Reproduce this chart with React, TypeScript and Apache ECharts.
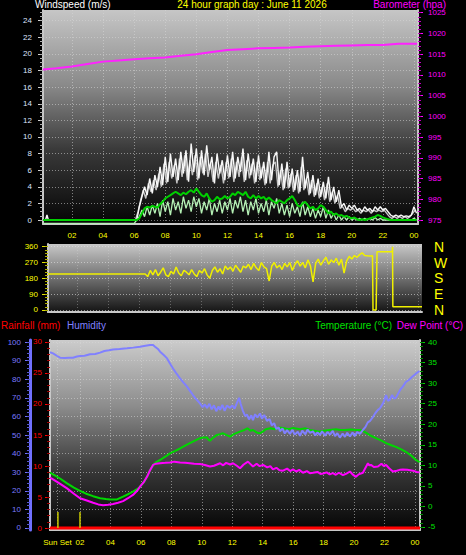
import React, { useEffect, useRef } from "react";
import * as echarts from "echarts";

const FONT = "Liberation Sans";

// ---------- tick labels ----------
const HOUR_TICKS = [2, 4, 6, 8, 10, 12, 14, 16, 18, 20, 22, 24];
const SUNSET_HOUR = 0.52;
const BOTTOM_HOUR_TICKS = [SUNSET_HOUR, 2, 4, 6, 8, 10, 12, 14, 16, 18, 20, 22, 24];
const WIND_TICKS = [0, 2, 4, 6, 8, 10, 12, 14, 16, 18, 20, 22, 24];
const BARO_TICKS = [975, 980, 985, 990, 995, 1000, 1005, 1010, 1015, 1020, 1025];
const DIR_TICKS = [0, 90, 180, 270, 360];
const COMPASS = ["N", "E", "S", "W", "N"]; // for 0, 90, 180, 270, 360
const HUM_TICKS = [0, 10, 20, 30, 40, 50, 60, 70, 80, 90, 100];
const RAIN_TICKS = [0, 5, 10, 15, 20, 25, 30];
const TEMP_TICKS = [-5, 0, 5, 10, 15, 20, 25, 30, 35, 40];

// ---------- top panel data ----------
const BAROMETER = [
  [0.135, 1011.3], [1, 1011.6], [2, 1012.0], [3, 1012.6], [4, 1013.2], [5, 1013.5], [6, 1013.8],
  [7, 1014.0], [8, 1014.2], [9, 1014.6], [10, 1015.0], [11, 1015.5], [12, 1016.0], [13, 1016.2],
  [14, 1016.4], [15, 1016.5], [16, 1016.6], [17, 1016.8], [18, 1016.9], [19, 1017.0], [20, 1017.1],
  [21, 1017.2], [22, 1017.2], [23, 1017.5], [24.2, 1017.5],
];

// wind, 10-minute samples starting 06:00
const WIND_START = 6.0;
const WIND_STEP = 1 / 6;
const GUST = [
  0, 0, 1.6, 2.8, 4.0, 3.0, 5.0, 3.2, 5.4, 4.0, 6.4, 4.2, 7.6, 4.6, 8.0, 5.2, 7.4, 4.8, 8.2, 5.6,
  8.4, 4.6, 9.2, 5.8, 8.6, 5.0, 8.4, 5.4, 9.0, 6.0, 7.6, 4.4, 8.0, 5.6, 7.2, 4.8, 7.8, 5.2, 8.2, 5.0,
  7.6, 5.8, 8.6, 4.8, 8.0, 5.4, 7.4, 4.6, 7.8, 5.0, 7.0, 4.4, 8.2, 4.8, 7.6, 8.2, 4.2, 6.8, 3.8, 7.0,
  4.0, 6.2, 3.6, 6.0, 3.4, 7.6, 3.8, 5.8, 3.2, 5.4, 3.0, 5.0, 2.8, 4.6, 2.6, 5.2, 2.4, 4.0, 2.2, 3.6,
  1.6, 2.0, 1.2, 1.8, 1.4, 1.8, 1.2, 1.4, 1.0, 1.6, 1.2, 1.4, 1.0, 1.6, 1.2, 1.6, 1.2, 1.4, 1.0, 0.6,
  0.4, 0.6, 0.4, 0.6, 0.4, 0.5, 0.4, 0.6, 1.6, 0.8,
];
const GUST_EARLY = [[0.135, 0], [0.3, 0], [0.39, 0.6], [0.48, 0], [5.9, 0]];
const GUST2_START = 6.083;
const GUST2 = [
  0, 1.0, 2.4, 3.6, 2.6, 4.4, 3.4, 4.8, 3.6, 5.6, 4.0, 6.8, 4.4, 7.0, 5.0, 6.6, 4.4, 7.4, 5.2, 7.8,
  4.8, 7.2, 5.4, 7.8, 4.8, 7.6, 5.6, 8.0, 5.2, 6.8, 4.6, 7.0, 5.0, 6.6, 4.4, 7.0, 5.0, 7.4, 4.6, 7.0,
  5.2, 7.6, 4.6, 7.2, 5.0, 6.8, 4.4, 7.0, 4.8, 6.4, 4.2, 7.0, 4.4, 6.6, 7.0, 4.0, 6.0, 3.6, 6.2, 3.8,
  5.6, 3.4, 5.4, 3.2, 6.4, 3.6, 5.0, 3.0, 4.8, 2.8, 4.4, 2.6, 4.0, 2.4, 4.4, 2.2, 3.4, 2.0, 3.0, 1.4,
  1.6, 1.0, 1.4, 1.2, 1.4, 1.0, 1.2, 0.8, 1.2, 1.0, 1.2, 0.8, 1.2, 1.0, 1.2, 1.0, 1.2, 0.8, 0.4, 0.2,
  0.4, 0.2, 0.4, 0.2, 0.4, 0.2, 0.4, 0.8, 1.2,
];
const SPEED = [
  -0.4, 0, 0.4, 1.2, 0.4, 1.6, 0.6, 1.8, 0.8, 2.0, 0.4, 2.4, 1.0, 2.2, 0.6, 2.6, 1.2, 2.2, 0.8, 2.8,
  1.4, 2.4, 1.0, 2.8, 1.6, 2.6, 0.8, 2.2, 1.2, 2.6, 0.6, 2.0, 1.0, 2.4, 0.8, 2.2, 1.2, 2.6, 0.8, 2.4,
  1.4, 2.8, 1.0, 2.4, 0.6, 2.2, 1.2, 2.6, 0.8, 2.0, 1.0, 2.4, 0.6, 2.2, 1.4, 2.6, 0.8, 2.0, 0.6, 1.8,
  0.4, 2.0, 0.8, 1.6, 0.4, 2.2, 0.6, 1.6, 0.4, 1.4, 0.2, 1.2, 0.4, 1.6, 0.2, 1.2, 0.2, 0.8, 0, 0.6,
  0, 0.4, 0, 0.4, 0, 0.2, 0, 0.2, 0, 0.2, 0, 0.2, 0, 0.3, 0, 0.2, 0, 0, 0, 0,
  0, 0, 0, 0, 0, 0, 0, 0, 0.2, 0,
];
const SPEED_EARLY = [[0.135, -0.4], [5.9, -0.4]];
const AVERAGE = [
  0, 0, 0.2, 0.8, 1.4, 1.6, 1.5, 1.7, 1.6, 1.5, 1.9, 2.2, 2.6, 2.8, 3.0, 3.2, 3.4, 3.2, 3.0, 3.3,
  3.1, 3.4, 3.6, 3.3, 3.8, 3.4, 3.0, 2.8, 3.2, 2.6, 2.2, 2.4, 2.8, 2.5, 2.6, 2.9, 2.6, 2.8, 3.2, 3.0,
  3.4, 3.2, 3.0, 3.4, 2.8, 2.6, 3.0, 2.6, 2.9, 2.6, 2.8, 2.4, 2.7, 2.4, 2.2, 2.0, 2.4, 2.2, 2.0, 2.4,
  2.6, 2.9, 2.4, 1.8, 1.6, 2.0, 2.2, 1.8, 1.4, 1.6, 1.2, 1.4, 1.8, 1.6, 1.2, 0.8, 1.0, 0.6, 0.8, 0.5,
  0.6, 0.4, 0.5, 0.3, 0.2, 0.3, 0.1, 0, 0.1, 0, 0.1, 0.2, 0.3, 0.4, 0.6, 0.5, 0.3, 0.2, 0.1, 0,
  0, 0, 0, 0, 0, 0, 0, 0, 0, 0,
];
const AVERAGE_EARLY = [[0.135, 0], [5.9, 0]];

// ---------- wind direction ----------
const DIR_EARLY = [[0.135, 205], [6.3, 205]];
const DIR_START = 6.4;
const DIR_STEP = 1 / 6;
const DIRECTION = [
  205, 190, 225, 200, 230, 195, 215, 240, 200, 190, 220, 205, 245, 210, 195, 225, 215, 200, 230, 205,
  190, 225, 210, 235, 200, 180, 225, 245, 215, 235, 205, 250, 230, 245, 220, 255, 235, 215, 250, 240,
  260, 230, 265, 240, 225, 270, 245, 235, 165, 250, 270, 240, 255, 230, 265, 245, 270, 225, 260, 280,
  250, 270, 240, 285, 250, 160, 265, 290, 255, 280, 300, 260, 285, 270, 295, 255, 290, 210, 280, 305,
  290, 310, 300, 315, 325, 310, 308, 307, 308,
];
const DIR_LATE = [[21.08, 307], [21.1, 0], [21.3, 0], [21.36, 332], [22.34, 332], [22.36, 360], [22.38, 19], [24.26, 19]];

// ---------- bottom panel ----------
const RAINFALL = [[0.03, 0], [6, 0], [12, 0], [18, 0], [24.33, 0]];
const MARKER_HOURS = [0.55, 2.0];
const MARKER_HEIGHT = 2.6;

const HUMIDITY = [
  [0.03, 94.5], [0.23, 93.9], [0.5, 92.5], [0.69, 91.6], [1.0, 91.4], [1.3, 91.6], [1.54, 91.6], [1.8, 92.2],
  [2.0, 92.5], [2.3, 92.6], [2.66, 93.4], [3.0, 93.6], [3.32, 94.3], [3.6, 95.2], [3.9, 95.6], [4.17, 96.0],
  [4.6, 96.2], [5.09, 96.6], [5.5, 97.0], [5.94, 97.5], [6.3, 98.0], [6.6, 98.4], [6.8, 98.4], [6.93, 97.5],
  [7.1, 96.4], [7.26, 94.8], [7.5, 93.0], [7.72, 91.2], [7.9, 88.6], [8.11, 85.8], [8.3, 83.5], [8.57, 80.5],
  [8.8, 78.2], [9.03, 76.0], [9.2, 74.0], [9.42, 71.5], [9.6, 69.6], [9.88, 67.0], [10.05, 65.0], [10.2, 66.4],
  [10.34, 64.6], [10.5, 66.8], [10.65, 63.8], [10.8, 66.0], [10.95, 62.8], [11.1, 65.4], [11.2, 63.6], [11.35, 66.2],
  [11.5, 63.0], [11.65, 65.8], [11.86, 64.6], [12.0, 66.0], [12.15, 64.2], [12.3, 67.2], [12.45, 70.0], [12.55, 66.8],
  [12.7, 63.0], [12.85, 60.2], [12.97, 61.0], [13.1, 58.4], [13.25, 60.6], [13.36, 58.0], [13.5, 61.2], [13.65, 59.4],
  [13.82, 61.6], [13.95, 58.8], [14.1, 60.8], [14.28, 57.6], [14.45, 58.6], [14.6, 55.2], [14.75, 56.4], [14.9, 53.2],
  [15.05, 54.2], [15.13, 52.0], [15.3, 53.6], [15.45, 50.8], [15.6, 52.6], [15.79, 50.6], [15.95, 52.8], [16.1, 50.2],
  [16.3, 51.8], [16.45, 49.6], [16.6, 52.4], [16.8, 50.4], [16.95, 53.0], [17.1, 51.2], [17.3, 52.0], [17.45, 49.8],
  [17.6, 51.4], [17.76, 50.0], [17.9, 52.0], [18.1, 49.6], [18.25, 51.6], [18.42, 50.2], [18.6, 52.2], [18.75, 49.4],
  [18.9, 51.0], [19.07, 48.6], [19.25, 50.8], [19.4, 49.0], [19.55, 51.2], [19.73, 49.2], [19.9, 51.4], [20.05, 49.4],
  [20.2, 51.6], [20.39, 50.6], [20.58, 52.7], [20.75, 54.4], [20.9, 56.8], [21.05, 57.6], [21.24, 59.7], [21.4, 61.8],
  [21.55, 63.4], [21.7, 64.4], [21.9, 67.0], [22.0, 69.0], [22.1, 71.5], [22.22, 68.4], [22.35, 69.0], [22.5, 71.6],
  [22.62, 69.6], [22.75, 70.0], [22.9, 72.4], [23.05, 74.6], [23.2, 76.0], [23.4, 78.5], [23.6, 79.6], [23.8, 81.2],
  [24.06, 83.0], [24.3, 84.4],
];

const TEMPERATURE = [
  [0.03, 8.2], [0.23, 7.8], [0.69, 6.8], [1.15, 5.6], [1.6, 4.6], [2.0, 3.8], [2.4, 3.1], [2.86, 2.5],
  [3.32, 2.0], [3.7, 1.8], [3.97, 1.7], [4.43, 1.7], [4.83, 2.4], [5.1, 2.9], [5.48, 3.6], [5.75, 4.2],
  [5.94, 4.8], [6.2, 5.9], [6.4, 7.2], [6.6, 8.8], [6.8, 10.1], [7.0, 10.8], [7.26, 11.3], [7.6, 12.1],
  [7.91, 12.9], [8.25, 13.5], [8.57, 14.1], [8.9, 14.8], [9.22, 15.4], [9.55, 16.0], [9.88, 16.6], [10.1, 16.8],
  [10.34, 16.8], [10.45, 16.2], [10.54, 16.0], [10.7, 16.6], [11.0, 17.4], [11.2, 17.6], [11.39, 17.8], [11.6, 17.4],
  [11.86, 17.0], [12.1, 17.6], [12.5, 18.2], [12.8, 18.6], [13.0, 19.0], [13.2, 18.4], [13.36, 18.6], [13.6, 18.0],
  [13.8, 17.8], [14.0, 18.2], [14.2, 18.8], [14.5, 19.0], [14.8, 18.8], [15.1, 19.2], [15.4, 19.0], [15.7, 18.8],
  [16.0, 19.1], [16.45, 18.8], [16.8, 19.0], [17.1, 18.6], [17.4, 18.4], [17.7, 18.2], [18.0, 18.4], [18.4, 18.6],
  [18.8, 18.8], [19.1, 18.6], [19.4, 18.6], [19.8, 18.7], [20.1, 18.6], [20.4, 18.6], [20.6, 18.3], [20.8, 17.9],
  [21.1, 17.2], [21.44, 16.6], [21.8, 16.0], [22.1, 15.4], [22.45, 14.9], [22.75, 14.5], [23.1, 13.9], [23.4, 13.3],
  [23.75, 12.4], [24.06, 11.3], [24.3, 10.8],
];

const DEWPOINT = [
  [0.03, 7.0], [0.23, 6.6], [0.7, 5.5], [1.15, 4.4], [1.6, 3.1], [2.0, 2.0], [2.4, 1.5], [2.86, 0.9],
  [3.2, 0.5], [3.52, 0.3], [3.85, 0.4], [4.17, 0.6], [4.5, 0.9], [4.83, 1.3], [5.15, 2.0], [5.48, 2.8],
  [5.75, 3.8], [5.94, 4.8], [6.2, 6.0], [6.4, 7.2], [6.6, 8.8], [6.8, 10.1], [7.0, 10.4], [7.26, 10.5],
  [7.6, 10.6], [7.91, 10.7], [8.2, 10.9], [8.57, 10.7], [8.9, 10.6], [9.22, 10.5], [9.5, 10.4], [9.88, 10.3],
  [10.2, 10.1], [10.54, 9.7], [10.8, 9.9], [11.0, 10.2], [11.2, 10.5], [11.4, 10.0], [11.6, 10.6], [11.86, 10.2],
  [12.05, 10.5], [12.3, 9.9], [12.51, 9.3], [12.75, 10.2], [13.03, 10.9], [13.2, 10.3], [13.36, 9.7], [13.6, 10.4],
  [13.8, 9.8], [14.02, 10.1], [14.3, 9.5], [14.5, 9.8], [14.67, 9.0], [14.9, 9.4], [15.1, 8.8], [15.33, 8.7],
  [15.6, 9.2], [15.8, 8.6], [15.99, 9.0], [16.2, 8.5], [16.4, 8.9], [16.64, 8.2], [16.9, 8.6], [17.1, 8.1],
  [17.3, 8.2], [17.6, 8.4], [17.8, 7.9], [17.96, 8.0], [18.2, 8.3], [18.4, 7.8], [18.61, 8.1], [18.8, 7.7],
  [19.0, 8.2], [19.27, 7.6], [19.5, 8.0], [19.73, 8.5], [19.9, 7.8], [20.12, 7.2], [20.3, 7.8], [20.58, 8.2],
  [20.75, 9.4], [20.91, 10.5], [21.0, 10.0], [21.11, 10.1], [21.3, 9.6], [21.57, 9.7], [21.8, 10.4], [21.95, 9.8],
  [22.1, 10.1], [22.3, 9.3], [22.55, 8.5], [22.8, 8.7], [23.0, 8.9], [23.21, 9.0], [23.5, 8.9], [23.87, 8.7],
  [24.1, 8.4], [24.3, 8.3],
];

// ---------- helpers ----------
const sampled = (start: number, step: number, vals: number[]) =>
  vals.map((v, i) => [+(start + i * step).toFixed(4), v]);
const fine = (a: number, b: number, s: number) => {
  const r: number[] = [];
  for (let v = a; v <= b + 1e-9; v += s) r.push(+v.toFixed(3));
  return r;
};
const grad = (stops: [number, string][]) =>
  new echarts.graphic.LinearGradient(0, 0, 0, 1, stops.map(([offset, color]) => ({ offset, color })));
const hourFmt = (v: number) => (Math.abs(v - SUNSET_HOUR) < 1e-6 ? "Sun Set" : v === 24 ? "00" : String(v).padStart(2, "0"));
const plainFmt = (v: number) => String(v);

const FRAME = "#c8c8c8";
const GRIDLINE = { color: "rgba(215,215,215,0.55)", type: [1, 2] as any, width: 1 };

const tickAxis = (gridIndex: number, position: string, min: number, max: number, values: number[], color: string, length: number, offset = 0) => ({
  type: "value", gridIndex, position, offset, min, max,
  axisLine: { show: false, onZero: false },
  axisLabel: { show: false },
  splitLine: { show: false },
  axisTick: { show: true, customValues: values, length, lineStyle: { color, width: 1 } },
});

export default function App() {
  const ref = useRef<HTMLDivElement>(null);
  useEffect(() => {
    if (!ref.current) return;
    const chart = echarts.init(ref.current, null, { renderer: "svg" });

    const T_MIN = 0.135, T_MAX = 24.26;
    const W_MIN = -0.48, W_MAX = 25.29;
    const B_MIN = 974.04, B_MAX = 1025.65;
    const D_MIN = -11.4, D_MAX = 375.4;
    const BT_MIN = 0.03, BT_MAX = 24.33;
    const H_MIN = -1.08, H_MAX = 101.1;
    const R_MIN = -0.32, R_MAX = 30.32;
    const C_MIN = -5.73, C_MAX = 40.49;

    const txt = (text: string, x: number, y: number, fill: string, align = "left", size = 10) => ({
      type: "text", x, y, silent: true,
      style: { text, fill, font: `${size}px "${FONT}"`, lineHeight: 9, align, verticalAlign: "top" },
    });

    const line = (name: string, data: any[], xi: number, yi: number, color: string, width: number, z = 2) => ({
      name, type: "line", data, xAxisIndex: xi, yAxisIndex: yi, showSymbol: false, symbol: "none",
      silent: true, z, lineStyle: { color, width }, itemStyle: { color },
    });

    const option: any = {
      animation: false,
      backgroundColor: "#000",
      textStyle: { fontFamily: FONT },
      grid: [
        { left: 43, top: 10, width: 375, height: 214, show: true, borderWidth: 0,
          backgroundColor: grad([[0, "#c6c6c6"], [0.35, "#8a8a8a"], [0.65, "#3a3a3a"], [1, "#050505"]]) },
        { left: 48, top: 244, width: 374, height: 68, show: true, borderWidth: 0,
          backgroundColor: grad([[0, "#c8c8c8"], [0.5, "#707070"], [1, "#141414"]]) },
        { left: 50, top: 340, width: 370, height: 190, show: true, borderWidth: 0,
          backgroundColor: grad([[0, "#cccccc"], [0.35, "#8c8c8c"], [0.7, "#353535"], [1, "#050505"]]) },
      ],
      xAxis: [
        { type: "value", gridIndex: 0, min: T_MIN, max: T_MAX,
          axisLine: { show: true, onZero: false, lineStyle: { color: FRAME, width: 2 } },
          axisTick: { show: false, customValues: HOUR_TICKS },
          axisLabel: { customValues: HOUR_TICKS, formatter: hourFmt, color: "#ffff00", fontSize: 8, margin: 7 },
          splitLine: { show: true, lineStyle: GRIDLINE } },
        { type: "value", gridIndex: 1, min: T_MIN, max: T_MAX,
          axisLine: { show: true, onZero: false, lineStyle: { color: FRAME, width: 2 } },
          axisTick: { show: false, customValues: HOUR_TICKS },
          axisLabel: { show: false },
          splitLine: { show: true, lineStyle: { ...GRIDLINE, color: "rgba(215,215,215,0.35)" } } },
        { type: "value", gridIndex: 2, min: BT_MIN, max: BT_MAX,
          axisLine: { show: true, onZero: false, lineStyle: { color: FRAME, width: 2 } },
          axisTick: { show: false, customValues: BOTTOM_HOUR_TICKS },
          axisLabel: { customValues: BOTTOM_HOUR_TICKS, formatter: hourFmt, color: "#ffff00", fontSize: 8, margin: 8 },
          splitLine: { show: true, lineStyle: GRIDLINE } },
      ],
      yAxis: [
        // 0 wind
        { type: "value", gridIndex: 0, position: "left", min: W_MIN, max: W_MAX,
          axisLine: { show: true, onZero: false, lineStyle: { color: FRAME, width: 2 } },
          axisTick: { show: true, customValues: WIND_TICKS, length: 5, lineStyle: { color: "#d0d0d0" } },
          axisLabel: { customValues: WIND_TICKS, formatter: plainFmt, color: "#dde4ff", fontSize: 8, margin: 11 },
          splitLine: { show: true, lineStyle: GRIDLINE } },
        // 1 wind minor
        tickAxis(0, "left", W_MIN, W_MAX, fine(0, 25, 0.5), "#b0b0b0", 3),
        // 2 barometer
        { type: "value", gridIndex: 0, position: "right", min: B_MIN, max: B_MAX,
          axisLine: { show: true, onZero: false, lineStyle: { color: FRAME, width: 2 } },
          axisTick: { show: true, customValues: BARO_TICKS, length: 5, lineStyle: { color: "#ff00ff" } },
          axisLabel: { customValues: BARO_TICKS, formatter: plainFmt, color: "#ff00ff", fontSize: 8, lineHeight: 7, margin: 10 },
          splitLine: { show: false } },
        // 3 barometer minor
        tickAxis(0, "right", B_MIN, B_MAX, fine(975, 1025, 1), "#c000c0", 3),
        // 4 direction
        { type: "value", gridIndex: 1, position: "left", min: D_MIN, max: D_MAX,
          axisLine: { show: true, onZero: false, lineStyle: { color: FRAME, width: 2 } },
          axisTick: { show: true, customValues: DIR_TICKS, length: 6, lineStyle: { color: "#e0e000" } },
          axisLabel: { customValues: DIR_TICKS, formatter: plainFmt, color: "#ffff00", fontSize: 8, margin: 10 },
          splitLine: { show: true, lineStyle: { ...GRIDLINE, color: "rgba(225,225,225,0.6)" } } },
        // 5 direction minor
        tickAxis(1, "left", D_MIN, D_MAX, fine(0, 360, 18), "#b0b000", 3),
        // 6 compass letters
        { type: "value", gridIndex: 1, position: "right", min: D_MIN, max: D_MAX,
          axisLine: { show: false, onZero: false }, axisTick: { show: false, customValues: DIR_TICKS },
          axisLabel: { customValues: DIR_TICKS, formatter: (v: number) => COMPASS[DIR_TICKS.indexOf(v)],
            color: "#ffff00", fontSize: 14, margin: 12 },
          splitLine: { show: false } },
        // 7 humidity
        { type: "value", gridIndex: 2, position: "left", offset: 20, min: H_MIN, max: H_MAX,
          axisLine: { show: true, onZero: false, lineStyle: { color: "#7070ff", width: 3 } },
          axisTick: { show: true, customValues: HUM_TICKS, length: 5, lineStyle: { color: "#7070ff" } },
          axisLabel: { customValues: HUM_TICKS, formatter: plainFmt, color: "#7a7aff", fontSize: 8, margin: 9 },
          splitLine: { show: true, lineStyle: GRIDLINE } },
        // 8 humidity minor
        tickAxis(2, "left", H_MIN, H_MAX, fine(0, 100, 2), "#5858d0", 3, 20),
        // 9 rainfall
        { type: "value", gridIndex: 2, position: "left", min: R_MIN, max: R_MAX,
          axisLine: { show: true, onZero: false, lineStyle: { color: FRAME, width: 2 } },
          axisTick: { show: true, customValues: RAIN_TICKS, length: 5, lineStyle: { color: "#ff0000" } },
          axisLabel: { customValues: RAIN_TICKS, formatter: plainFmt, color: "#ff0000", fontSize: 8, margin: 8 },
          splitLine: { show: false } },
        // 10 rainfall minor
        tickAxis(2, "left", R_MIN, R_MAX, fine(0, 30, 1), "#a00000", 3),
        // 11 temperature / dew point
        { type: "value", gridIndex: 2, position: "right", min: C_MIN, max: C_MAX,
          axisLine: { show: true, onZero: false, lineStyle: { color: FRAME, width: 2 } },
          axisTick: { show: true, customValues: TEMP_TICKS, length: 5, lineStyle: { color: "#00d000" } },
          axisLabel: { customValues: TEMP_TICKS, formatter: plainFmt, color: "#00e000", fontSize: 8, margin: 8 },
          splitLine: { show: false } },
        // 12 temperature minor
        tickAxis(2, "right", C_MIN, C_MAX, fine(-5, 40, 1), "#009000", 3),
      ],
      series: [
        line("Barometer", BAROMETER, 0, 2, "#ff22ff", 2, 5),
        line("Gust max", sampled(GUST2_START, WIND_STEP, GUST2), 0, 0, "#c4c4c4", 1.4, 2),
        line("Gust", [...GUST_EARLY, ...sampled(WIND_START, WIND_STEP, GUST)], 0, 0, "#f8f8f8", 1.4, 3),
        line("Speed", [...SPEED_EARLY, ...sampled(WIND_START, WIND_STEP, SPEED)], 0, 0, "#b4f0b4", 1.3, 4),
        line("Average", [...AVERAGE_EARLY, ...sampled(WIND_START, WIND_STEP, AVERAGE)], 0, 0, "#00d000", 2, 5),
        line("Direction", [...DIR_EARLY, ...sampled(DIR_START, DIR_STEP, DIRECTION), ...DIR_LATE], 1, 4, "#f0f000", 1.5, 3),
        line("Rainfall", RAINFALL, 2, 9, "#ff0000", 3, 3),
        ...MARKER_HOURS.map((h, i) => line("Marker" + i, [[h, 0], [h, MARKER_HEIGHT]], 2, 9, "#c8c800", 1.5, 3)),
        line("Temperature", TEMPERATURE, 2, 11, "#00d800", 2, 4),
        line("Dew Point", DEWPOINT, 2, 11, "#ff00ff", 2, 4),
        line("Humidity", HUMIDITY, 2, 7, "#8080ff", 2, 5),
      ],
      graphic: [
        txt("Windspeed (m/s)", 35, -0.5, "#ffffff"),
        txt("24 hour graph day : June 11 2026", 252, -0.5, "#ffff00", "center"),
        txt("Barometer (hpa)", 446, -0.5, "#ff00ff", "right"),
        txt("Rainfall (mm)", 1, 321, "#ff0000"),
        txt("Humidity", 67, 321, "#8080ff"),
        txt("Temperature (°C)", 392, 321, "#00e000", "right"),
        txt("Dew Point (°C)", 463, 321, "#ff00ff", "right"),
      ],
    };
    chart.setOption(option);
    return () => chart.dispose();
  }, []);

  return (
    <div style={{ position: "fixed", left: 0, top: 0, width: 466, height: 555, background: "#000" }}>
      <div ref={ref} style={{ width: 466, height: 555 }} />
    </div>
  );
}
